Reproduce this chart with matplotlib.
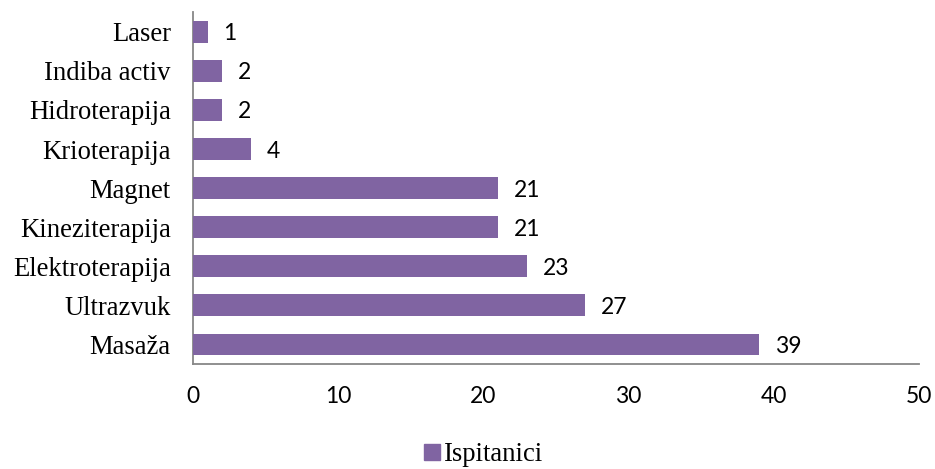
import matplotlib
matplotlib.use('Agg')
import matplotlib.pyplot as plt
from matplotlib.patches import Patch

# ── Podaci ────────────────────────────────────────────────────────────────────
kategorije = ['Laser', 'Indiba activ', 'Hidroterapija', 'Krioterapija', 'Magnet',
              'Kineziterapija', 'Elektroterapija', 'Ultrazvuk', 'Masaža']
vrijednosti = [1, 2, 2, 4, 21, 21, 23, 27, 39]
x_ticks = [0, 10, 20, 30, 40, 50]

BAR = '#8064A2'
AXIS = '#878787'
SERIF = ['Liberation Serif', 'DejaVu Serif']
SANS = ['Lato', 'DejaVu Sans']

fig = plt.figure(figsize=(9.35, 4.69), dpi=100)
ax = fig.add_axes([0.2064, 0.2239, 0.983 - 0.2064, 0.974 - 0.2239])

y = list(range(len(kategorije)))
ax.barh(y, vrijednosti, height=0.56, color=BAR, zorder=3)

for yi, v in zip(y, vrijednosti):
    ax.annotate(str(v), xy=(v, yi), xytext=(11.5, 0), textcoords='offset points',
                va='center_baseline', ha='left', fontsize=16.5, family=SANS, color='black')

ax.set_ylim(len(kategorije) - 0.5, -0.5)
ax.set_xlim(0, 50)
ax.set_yticks(y)
ax.set_yticklabels(kategorije, family=SERIF, fontsize=19.2)
ax.set_xticks(x_ticks)
ax.set_xticklabels([str(t) for t in x_ticks], family=SANS, fontsize=16.5)
ax.tick_params(axis='both', length=0)
ax.tick_params(axis='x', pad=16)
ax.tick_params(axis='y', pad=16)

for s in ['top', 'right']:
    ax.spines[s].set_visible(False)
for s in ['left', 'bottom']:
    ax.spines[s].set_color(AXIS)
    ax.spines[s].set_linewidth(1.3)

fig.legend(handles=[Patch(color=BAR, label='Ispitanici')], loc='center',
           bbox_to_anchor=(0.517, 0.03), frameon=False, handlelength=0.6,
           handleheight=0.6, handletextpad=0.15, prop={'family': SERIF, 'size': 19.2})

fig.savefig('out.png', dpi=100)
